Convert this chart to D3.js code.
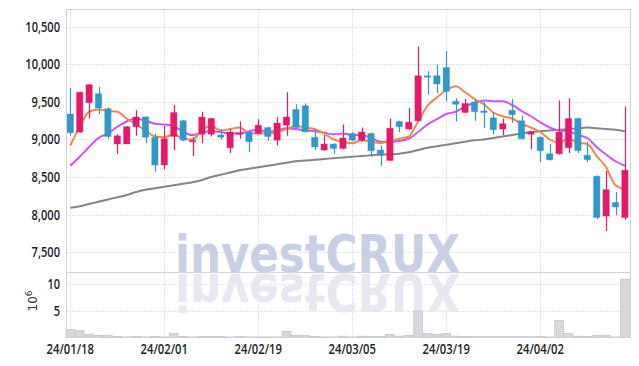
<!DOCTYPE html>
<html><head><meta charset="utf-8">
<script src="https://cdn.jsdelivr.net/npm/d3@7"></script>
<style>html,body{margin:0;padding:0;background:#fff;}svg{display:block;}</style>
</head><body>
<svg id="chart" width="639" height="366"></svg>
<script>
const dates = ["24/01/18","24/01/19","24/01/22","24/01/23","24/01/24","24/01/25","24/01/26","24/01/29","24/01/30","24/01/31",
"24/02/01","24/02/02","24/02/05","24/02/06","24/02/07","24/02/08","24/02/13","24/02/14","24/02/15","24/02/16",
"24/02/19","24/02/20","24/02/21","24/02/22","24/02/23","24/02/26","24/02/27","24/02/28","24/02/29","24/03/04",
"24/03/05","24/03/06","24/03/07","24/03/08","24/03/11","24/03/12","24/03/13","24/03/14","24/03/15","24/03/18",
"24/03/19","24/03/20","24/03/21","24/03/22","24/03/25","24/03/26","24/03/27","24/03/28","24/03/29","24/04/01",
"24/04/02","24/04/03","24/04/04","24/04/05","24/04/08","24/04/09","24/04/11","24/04/12","24/04/15","24/04/16"];
const open  = [9340,9100,9490,9610,9410,8940,8940,9170,9300,9030, 8660,9040,9250,8980,9070,9070,9060,8890,9080,9100,
               9080,9160,8990,9190,9400,9450,9030,8860,8940,8880, 9080,8990,9080,8860,8720,9240,9140,9250,9850,9850,
               9960,9510,9360,9500,9380,9290,9140,9390,9250,9070, 9030,8810,8810,8890,9280,8790,8510,7980,8160,7960];
const high  = [9690,9640,9740,9700,9430,9070,9180,9390,9310,9080, 9180,9460,9260,9030,9370,9290,9140,9140,9240,9110,
               9270,9170,9300,9630,9470,9480,9140,9060,8950,9200, 9100,9160,9090,8920,9280,9250,9420,10240,9910,10000,
               10180,9550,9540,9540,9500,9360,9280,9540,9320,9110, 9040,8940,9520,9550,9290,8970,8520,8580,8300,9440];
const low   = [9050,9090,9280,9340,9010,8810,8940,9050,8950,8570, 8600,8860,8980,8780,8950,9040,9000,8820,9010,8830,
               9070,8980,8920,9050,9150,9100,8860,8850,8810,8870, 8980,8970,8770,8650,8710,9100,9130,9240,9600,9620,
               9510,9240,9350,9250,9150,9070,9060,9220,9000,8870, 8700,8720,8800,8820,8820,8700,7940,7780,7990,7930];
const close = [9090,9630,9730,9420,9040,9050,9170,9300,9030,8660, 9010,9360,8990,8990,9300,9280,9030,9100,9090,8970,
               9190,9040,9220,9300,9160,9100,8900,8940,8880,9020, 8990,9100,8850,8790,9150,9170,9230,9850,9830,9740,
               9640,9470,9480,9370,9370,9130,9210,9330,9010,9100, 8850,8730,9100,9280,8850,8730,7960,8330,8100,8590];
const ma5   = [8920,9170,9370,9400,9380,9370,9280,9200,9120,9040, 9030,9070,9010,9000,9130,9180,9120,9140,9160,9090,
               9080,9080,9100,9140,9180,9160,9140,9080,9000,8970, 8950,8990,8970,8950,8980,9010,9040,9240,9450,9560,
               9660,9710,9630,9540,9470,9360,9310,9280,9210,9160, 9100,9000,8960,9010,8960,8940,8780,8630,8390,8340];
const ma10  = [8650,8770,8900,9020,9080,9170,9240,9280,9250,9210, 9200,9180,9100,9060,9090,9110,9100,9080,9080,9110,
               9130,9100,9120,9150,9140,9120,9110,9090,9070,9080, 9060,9060,9020,8970,8970,8980,9010,9100,9200,9270,
               9340,9370,9440,9490,9520,9510,9510,9460,9380,9310, 9230,9160,9120,9110,9060,9020,8900,8800,8710,8650];
const ma60  = [8090,8110,8140,8170,8200,8230,8260,8300,8330,8350, 8370,8390,8410,8430,8460,8500,8530,8560,8590,8610,
               8630,8650,8670,8690,8710,8720,8730,8740,8750,8760, 8770,8780,8790,8800,8800,8810,8830,8860,8890,8910,
               8930,8950,8970,8990,9000,9020,9040,9060,9080,9100, 9110,9120,9130,9140,9150,9160,9150,9140,9130,9110];
const volume = [1.5,1.3,0.6,0.4,0.4,0.2,0.1,0.2,0.1,0.2, 0.1,0.75,0.2,0.1,0.2,0.2,0.2,0.1,0.2,0.1,
                0.1,0.1,0.1,1.15,0.4,0.4,0.2,0.1,0.1,0.25, 0.1,0.25,0.2,0.2,0.55,0.25,0.4,5.0,0.75,0.6,
                0.75,0.25,0.2,0.15,0.15,0.15,0.15,0.15,0.15,0.15, 0.2,0.1,3.2,0.75,0.25,0.2,0.4,0.4,0.1,11.0];
const priceTicks = [7500,8000,8500,9000,9500,10000,10500];
const volTicks = [5,10];
const dateTicks = ["24/01/18","24/02/01","24/02/19","24/03/05","24/03/19","24/04/02"];

const svg = d3.select("#chart");
const L = 66.5, R = 630.5, T = 9.5, M = 272.5, B = 337.5;
const x = d3.scalePoint().domain(dates).range([70.3, 624.9]);
const step = x.step();
const y = d3.scaleLinear().domain([7227, 10733]).range([M, T]);
const yv = d3.scaleLinear().domain([0, 12.25]).range([B, M]);
const UP = "#e5196a", DOWN = "#3297c9";
const font = "'Open Sans','Liberation Sans',sans-serif";

svg.append("defs").append("clipPath").attr("id","vclip").append("rect")
  .attr("x",L).attr("y",M).attr("width",R-L).attr("height",B-M);

// grid
const grid = svg.append("g").attr("stroke","#c3c7da").attr("stroke-dasharray","1,2").attr("stroke-width",1);
priceTicks.forEach(v => grid.append("line").attr("x1",L).attr("x2",R).attr("y1",Math.round(y(v))+0.5).attr("y2",Math.round(y(v))+0.5));
volTicks.forEach(v => grid.append("line").attr("x1",L).attr("x2",R).attr("y1",Math.round(yv(v))+0.5).attr("y2",Math.round(yv(v))+0.5));
dateTicks.forEach(d => grid.append("line").attr("x1",Math.round(x(d))+0.5).attr("x2",Math.round(x(d))+0.5).attr("y1",T).attr("y2",B));

// watermark
const wm = svg.append("g");
wm.append("text").attr("x",175).attr("y",272).attr("textLength",285).attr("lengthAdjust","spacingAndGlyphs")
  .attr("font-family","'DejaVu Sans','Liberation Sans',sans-serif").attr("font-weight","bold").attr("font-size",52)
  .attr("fill","#c9d0e6").text("investCRUX");
wm.append("g").attr("clip-path","url(#vclip)").append("text").attr("x",175).attr("y",272).attr("textLength",285).attr("lengthAdjust","spacingAndGlyphs")
  .attr("transform","translate(0,546) scale(1,-1)")
  .attr("font-family","'DejaVu Sans','Liberation Sans',sans-serif").attr("font-weight","bold").attr("font-size",52)
  .attr("fill","#e9e7f0").text("investCRUX");

// volume bars
svg.append("g").selectAll("rect").data(dates).join("rect")
  .attr("x", d => x(d) - step*0.46).attr("width", step*0.92)
  .attr("y", (d,i) => yv(volume[i])).attr("height", (d,i) => B - yv(volume[i]))
  .attr("fill","#d7d7de").attr("stroke","#c4c4cc").attr("stroke-width",0.8);

// MA lines
const lineGen = arr => d3.line().x((d,i)=>x(dates[i])).y(d=>y(d)).curve(d3.curveMonotoneX)(arr);
svg.append("path").attr("d",lineGen(ma60)).attr("fill","none").attr("stroke","#858585").attr("stroke-width",2);
svg.append("path").attr("d",lineGen(ma10)).attr("fill","none").attr("stroke","#cc55ee").attr("stroke-width",2);
svg.append("path").attr("d",lineGen(ma5)).attr("fill","none").attr("stroke","#ef8850").attr("stroke-width",2);

// candles
const cg = svg.append("g");
dates.forEach((d,i) => {
  const c = close[i] >= open[i] ? UP : DOWN;
  const cx = Math.round(x(d)) + 0.5;
  cg.append("line").attr("x1",cx).attr("x2",cx).attr("y1",y(high[i])).attr("y2",y(low[i])).attr("stroke",c).attr("stroke-width",1.2);
  const top = y(Math.max(open[i],close[i])), bot = y(Math.min(open[i],close[i]));
  cg.append("rect").attr("x",x(d)-3.2).attr("width",6.4).attr("y",top).attr("height",Math.max(1.5,bot-top))
    .attr("fill",c).attr("stroke",c).attr("stroke-opacity",0.3).attr("stroke-width",1.2);
});

// borders
const bd = svg.append("g").attr("fill","none").attr("stroke","#d2d2d6").attr("stroke-width",1);
bd.append("rect").attr("x",L).attr("y",T).attr("width",R-L).attr("height",B-T);
bd.append("line").attr("x1",L).attr("x2",R).attr("y1",M).attr("y2",M);

// label width estimate for condensed look
const labW = s => s.split("").reduce((a,ch) => a + (/[0-9]/.test(ch) ? 6.3 : ch === "," ? 3.2 : 4.8), 0);

const ay = svg.append("g").attr("font-family",font).attr("font-size",14).attr("font-weight",600).attr("fill","#1e1e1e").attr("text-anchor","end");
priceTicks.forEach(v => { const s = d3.format(",")(v);
  ay.append("text").attr("x",60).attr("y",y(v)+5).attr("textLength",labW(s)).attr("lengthAdjust","spacingAndGlyphs").text(s); });
volTicks.forEach(v => { const s = String(v);
  ay.append("text").attr("x",60).attr("y",yv(v)+5).attr("textLength",labW(s)).attr("lengthAdjust","spacingAndGlyphs").text(s); });
const ax = svg.append("g").attr("font-family",font).attr("font-size",14).attr("font-weight",600).attr("fill","#1e1e1e").attr("text-anchor","middle");
dateTicks.forEach(d => ax.append("text").attr("x",x(d)).attr("y",354).attr("textLength",labW(d)).attr("lengthAdjust","spacingAndGlyphs").text(d));
const lab = svg.append("text").attr("transform","translate(37,301) rotate(-90)").attr("text-anchor","middle")
  .attr("font-family","'DejaVu Sans',sans-serif").attr("font-size",12).attr("fill","#333");
lab.append("tspan").text("10");
lab.append("tspan").attr("dy",-5).attr("font-size",9).text("6");
</script>
</body></html>
